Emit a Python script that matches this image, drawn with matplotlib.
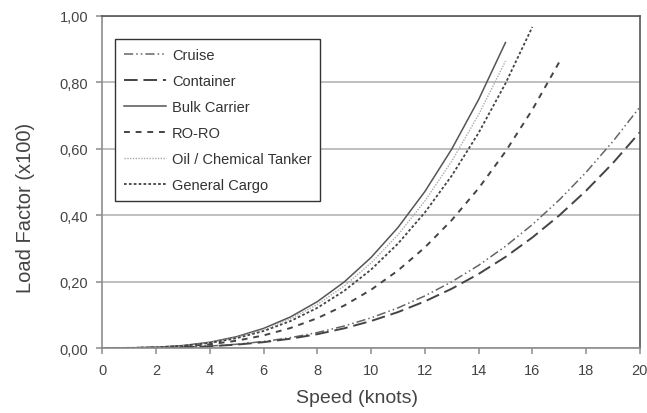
import matplotlib.pyplot as plt
from matplotlib.ticker import FuncFormatter

plt.rcParams['font.family'] = ['Liberation Sans', 'DejaVu Sans']

# load factor, one value per knot starting at 0
bulk = [0, 0.0003, 0.0022, 0.0074, 0.0174, 0.0341, 0.0589, 0.0935, 0.1396, 0.1987,
        0.2726, 0.3628, 0.4710, 0.5989, 0.7480, 0.92]
oil = [0, 0.0003, 0.0020, 0.0069, 0.0164, 0.0320, 0.0553, 0.0878, 0.1311, 0.1866,
       0.2560, 0.3407, 0.4424, 0.5624, 0.7025, 0.864]
general = [0, 0.0002, 0.0019, 0.0064, 0.0151, 0.0295, 0.0510, 0.0810, 0.1209, 0.1721,
           0.2361, 0.3142, 0.4080, 0.5187, 0.6478, 0.7967, 0.967]
roro = [0, 0.0002, 0.0014, 0.0047, 0.0112, 0.0219, 0.0379, 0.0601, 0.0897, 0.1278,
        0.1753, 0.2333, 0.3028, 0.3850, 0.4809, 0.5915, 0.7178, 0.861]
cruise = [0, 0.0001, 0.0007, 0.0025, 0.0058, 0.0113, 0.0196, 0.0311, 0.0465, 0.0662,
          0.0908, 0.1208, 0.1568, 0.1994, 0.2490, 0.3063, 0.3717, 0.4459, 0.5293, 0.6225, 0.726]
container = [0, 0.0001, 0.0007, 0.0022, 0.0052, 0.0102, 0.0176, 0.0279, 0.0416, 0.0592,
             0.0813, 0.1081, 0.1404, 0.1785, 0.2230, 0.2742, 0.3328, 0.3992, 0.4739, 0.5573, 0.65]

fig = plt.figure(figsize=(6.47, 4.14), dpi=100)
ax = fig.add_axes([0.158, 0.157, 0.831, 0.802])

def sp(vals):
    return list(range(len(vals)))

ax.plot(sp(cruise), cruise, color='#666666', lw=1.1, dashes=(6, 2, 1, 2, 1, 2), label='Cruise')
ax.plot(sp(container), container, color='#444444', lw=1.4, dashes=(7, 3), label='Container')
ax.plot(sp(bulk), bulk, color='#555555', lw=1.1, label='Bulk Carrier')
ax.plot(sp(roro), roro, color='#444444', lw=1.4, dashes=(3, 3), label='RO-RO')
ax.plot(sp(oil), oil, color='#aaaaaa', lw=1.0, dashes=(1, 1), label='Oil / Chemical Tanker')
ax.plot(sp(general), general, color='#444444', lw=1.3, dashes=(1.5, 1.2), label='General Cargo')

ax.set_xlim(0, 20)
ax.set_ylim(0, 1.0)
ax.set_xticks(range(0, 21, 2))
ax.set_yticks([0, 0.2, 0.4, 0.6, 0.8, 1.0])
ax.yaxis.set_major_formatter(FuncFormatter(lambda v, p: f"{v:.2f}".replace('.', ',')))
ax.grid(axis='y', color='#b4b4b4', lw=1.2)
ax.set_axisbelow(True)

for s in ['left', 'bottom']:
    ax.spines[s].set_color('#8c8c8c')
for s in ['top', 'right']:
    ax.spines[s].set_color('#555555')
for s in ax.spines.values():
    s.set_linewidth(1.2)
ax.tick_params(colors='#8c8c8c', labelcolor='#444444', labelsize=10.5, length=4, width=1.1)
ax.tick_params(axis='x', pad=7)
ax.tick_params(axis='y', pad=6)

ax.set_xlabel('Speed (knots)', fontsize=14, color='#444444')
ax.set_ylabel('Load Factor (x100)', fontsize=14.5, color='#444444')
ax.xaxis.set_label_coords(0.474, -0.1235)
ax.yaxis.set_label_coords(-0.1245, 0.425)

leg = ax.legend(loc='upper left', bbox_to_anchor=(0.024, 0.93), fontsize=10.5,
                handlelength=2.9, handletextpad=0.4, labelspacing=0.82, borderpad=0.6,
                fancybox=False, framealpha=1, borderaxespad=0, labelcolor='#333333')
leg.get_frame().set_edgecolor('#333333')
leg.get_frame().set_linewidth(1.0)

fig.savefig('out.png', dpi=100)
